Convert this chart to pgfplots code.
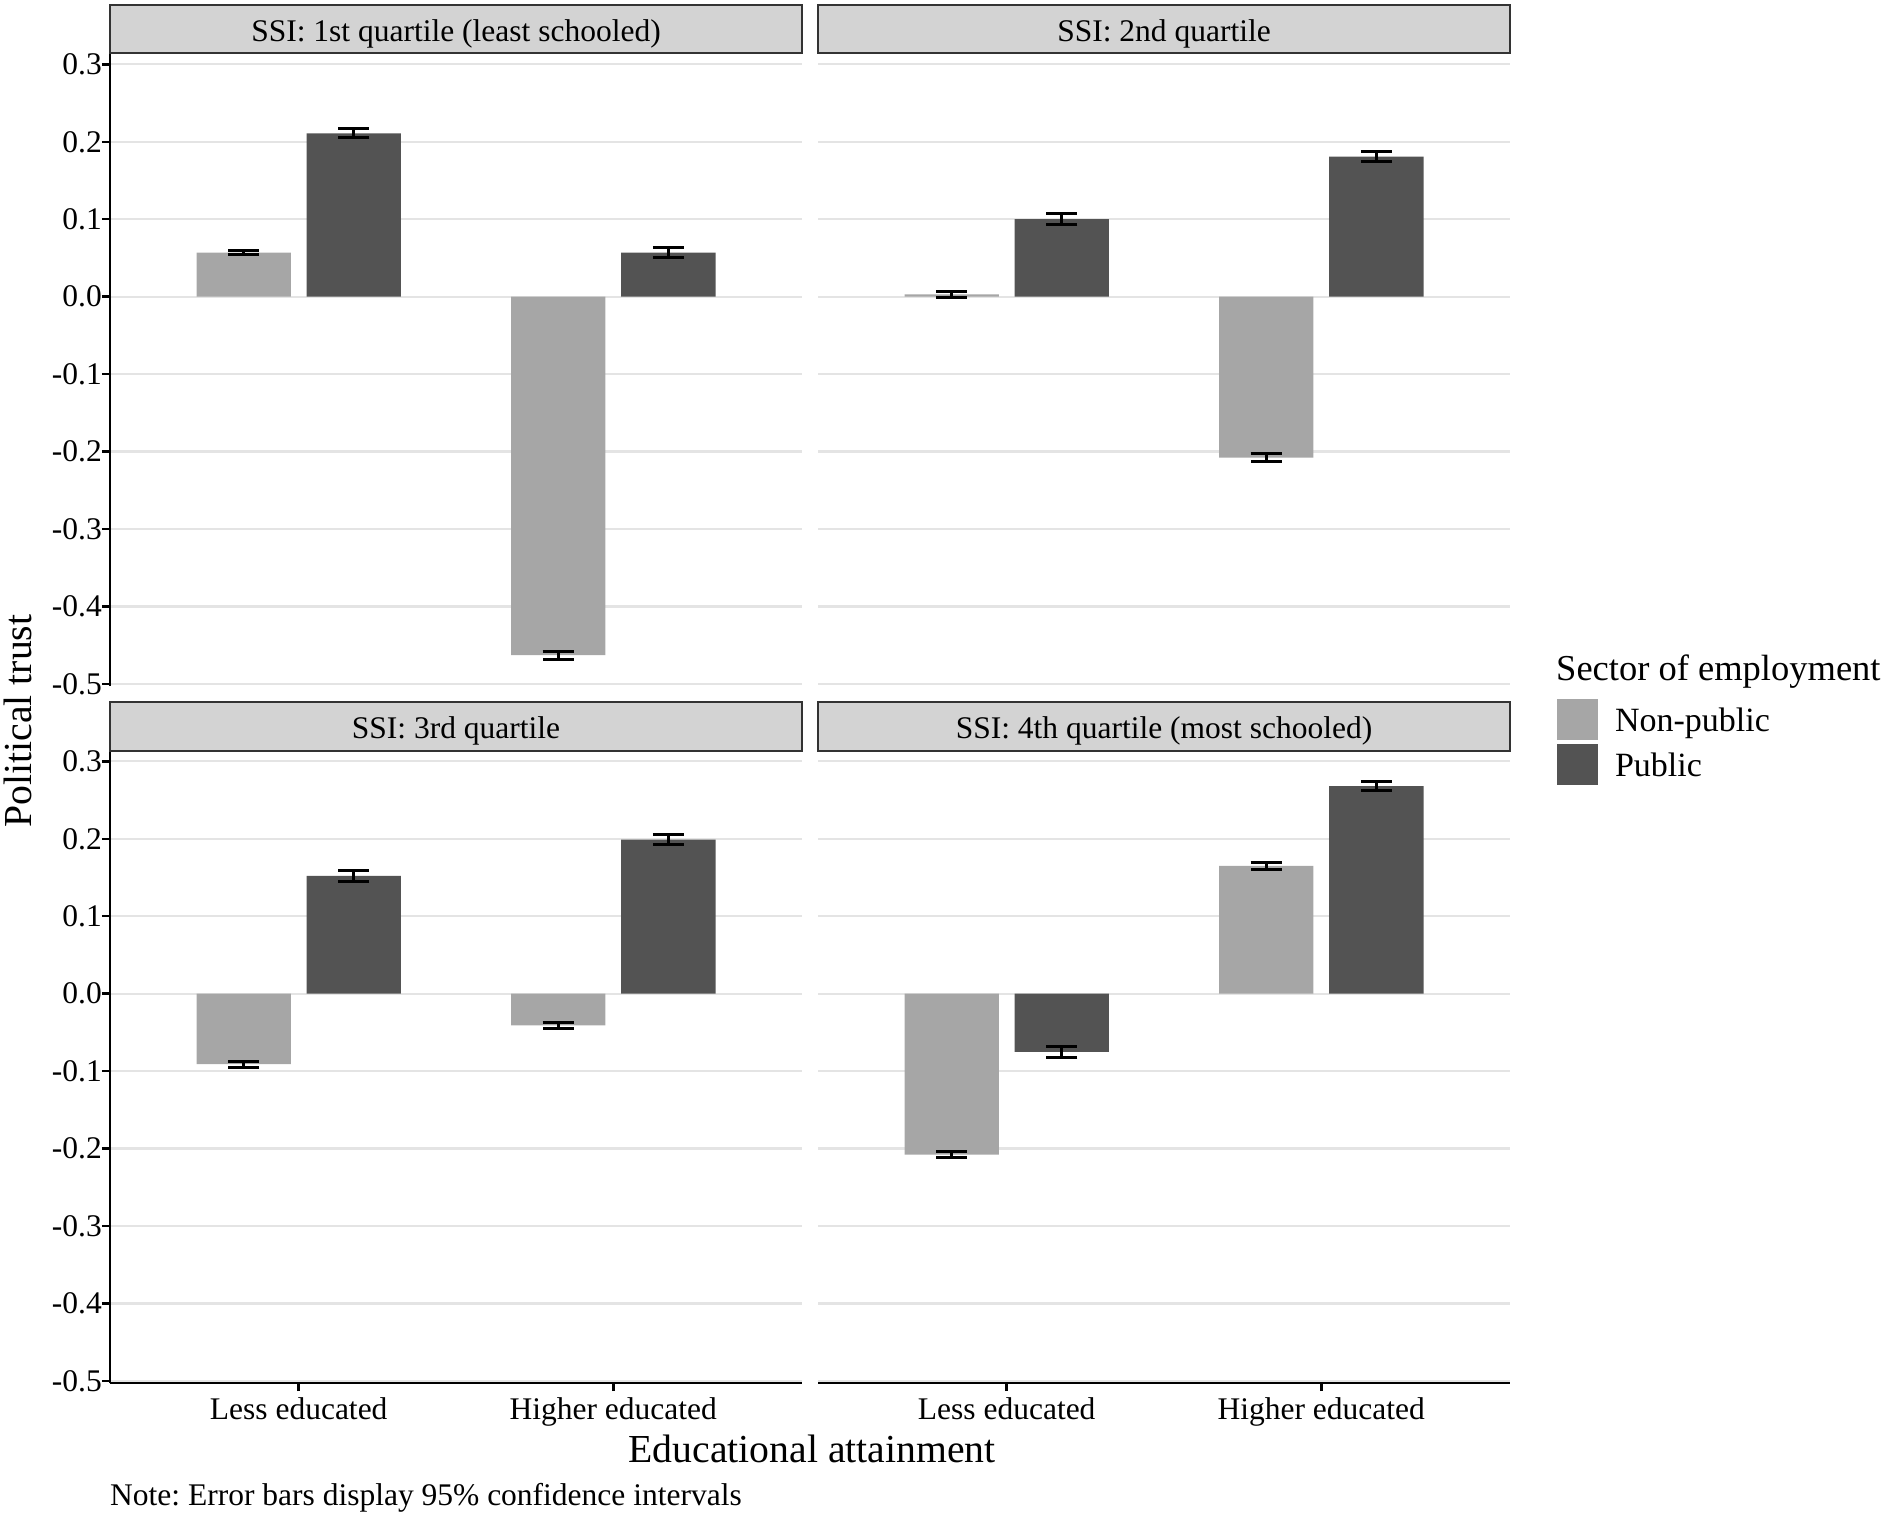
\documentclass[border=0pt]{standalone}
\usepackage{fontspec}
\setmainfont{Liberation Serif}
\usepackage{pgfplots}
\pgfplotsset{compat=1.18}
\frenchspacing
\definecolor{lightbar}{HTML}{A6A6A6}
\definecolor{darkbar}{HTML}{535353}
\definecolor{gridc}{HTML}{E4E4E4}
\definecolor{stripfill}{HTML}{D3D3D3}
\definecolor{stripdraw}{HTML}{333333}
\newcommand\tickfont{\fontsize{31.5}{36}\selectfont}
\newcommand\titlefont{\fontsize{39.7}{46}\selectfont}
\pgfplotsset{
  panel/.style={
    scale only axis, width=692pt, height=632pt,
    xmin=0.4, xmax=2.6, ymin=-0.5028, ymax=0.3134,
    axis x line*=bottom, axis y line*=left,
    axis line style={-, line width=2.5pt, black},
    xtick={1,2}, xticklabels={Less educated, Higher educated},
    ytick={-0.5,-0.4,-0.3,-0.2,-0.1,0,0.1,0.2,0.3},
    yticklabels={-0.5,-0.4,-0.3,-0.2,-0.1,0.0,0.1,0.2,0.3},
    tick align=outside, major tick length=8pt,
    tick style={line width=2.5pt, black},
    ymajorgrids, major grid style={line width=2.2pt, gridc},
    tick label style={font=\tickfont},
    yticklabel style={anchor=east, inner sep=0pt},
    xticklabel style={anchor=north, inner sep=0pt, yshift=-6pt},
  },
  noxaxis/.style={x axis line style={draw=none}, xticklabels={}, xtick style={draw=none}},
  noyaxis/.style={y axis line style={draw=none}, yticklabels={}, ytick style={draw=none}},
  np/.style={ybar, bar width=0.3, bar shift=-0.175, fill=lightbar, draw=none,
     legend image code/.code={\fill[lightbar] (0pt,-8.5pt) rectangle (41pt,32.5pt);}},
  pu/.style={ybar, bar width=0.3, bar shift=0.175, fill=darkbar, draw=none,
     legend image code/.code={\fill[darkbar] (0pt,-8.5pt) rectangle (41pt,32.5pt);}},
  eb/.style={forget plot, draw=none, mark=none,
     error bars/y dir=both, error bars/y explicit,
     error bars/error bar style={draw=black, line width=3pt},
     error bars/error mark options={draw=black, line width=3pt, mark size=15.5pt, rotate=90}},
}
\begin{document}
\begin{tikzpicture}
\path[use as bounding box] (0pt,0pt) rectangle (1891pt,-1517pt);
% Panel 1
\begin{axis}[panel, noxaxis, at={(110pt,-54pt)}, anchor=north west]
\addplot[np] coordinates {(1,0.057) (2,-0.463)};
\addplot[pu] coordinates {(1,0.211) (2,0.057)};
\addplot[eb] coordinates {(0.825,0.057) +- (0,0.003) (1.825,-0.463) +- (0,0.005)};
\addplot[eb] coordinates {(1.175,0.211) +- (0,0.006) (2.175,0.057) +- (0,0.006)};
\end{axis}
% Panel 2
\begin{axis}[panel, noxaxis, noyaxis, at={(818pt,-54pt)}, anchor=north west,
  legend style={at={(1.06792,-0.02089)}, anchor=north west, draw=none, fill=none,
    inner sep=0pt, outer sep=0pt, row sep=4pt, column sep=17pt,
    font=\fontsize{34}{40}\selectfont, nodes={inner sep=0pt}, cells={anchor=base west}}]
\addplot[np] coordinates {(1,0.003) (2,-0.208)};
\addlegendentry{Non-public}
\addplot[pu] coordinates {(1,0.100) (2,0.181)};
\addlegendentry{Public}
\addplot[eb] coordinates {(0.825,0.003) +- (0,0.004) (1.825,-0.208) +- (0,0.005)};
\addplot[eb] coordinates {(1.175,0.100) +- (0,0.007) (2.175,0.181) +- (0,0.007)};
\end{axis}
% Panel 3
\begin{axis}[panel, at={(110pt,-751pt)}, anchor=north west]
\addplot[np] coordinates {(1,-0.091) (2,-0.041)};
\addplot[pu] coordinates {(1,0.152) (2,0.199)};
\addplot[eb] coordinates {(0.825,-0.091) +- (0,0.004) (1.825,-0.041) +- (0,0.004)};
\addplot[eb] coordinates {(1.175,0.152) +- (0,0.007) (2.175,0.199) +- (0,0.006)};
\end{axis}
% Panel 4
\begin{axis}[panel, noyaxis, at={(818pt,-751pt)}, anchor=north west]
\addplot[np] coordinates {(1,-0.208) (2,0.165)};
\addplot[pu] coordinates {(1,-0.075) (2,0.268)};
\addplot[eb] coordinates {(0.825,-0.208) +- (0,0.004) (1.825,0.165) +- (0,0.005)};
\addplot[eb] coordinates {(1.175,-0.075) +- (0,0.007) (2.175,0.268) +- (0,0.006)};
\end{axis}
% strips
\draw[stripdraw, fill=stripfill, line width=2pt] (110pt,-5pt) rectangle (802pt,-53.5pt);
\node[font=\tickfont, anchor=base, inner sep=0pt] at (456pt,-41.3pt) {SSI: 1st quartile (least schooled)};
\draw[stripdraw, fill=stripfill, line width=2pt] (818pt,-5pt) rectangle (1510pt,-53.5pt);
\node[font=\tickfont, anchor=base, inner sep=0pt] at (1164pt,-41.3pt) {SSI: 2nd quartile};
\draw[stripdraw, fill=stripfill, line width=2pt] (110pt,-702pt) rectangle (802pt,-750.5pt);
\node[font=\tickfont, anchor=base, inner sep=0pt] at (456pt,-738.5pt) {SSI: 3rd quartile};
\draw[stripdraw, fill=stripfill, line width=2pt] (818pt,-702pt) rectangle (1510pt,-750.5pt);
\node[font=\tickfont, anchor=base, inner sep=0pt] at (1164pt,-738.5pt) {SSI: 4th quartile (most schooled)};
% titles
\node[font=\titlefont, rotate=90] at (18pt,-721pt) {Political trust};
\node[font=\titlefont, anchor=base] at (812pt,-1462.5pt) {Educational attainment};
\node[font=\fontsize{36.5}{42}\selectfont, anchor=base west, inner sep=0pt] at (1556pt,-680pt) {Sector of employment};
\node[font=\tickfont, anchor=base west, inner sep=0pt] at (110pt,-1505pt) {Note: Error bars display 95\% confidence intervals};
\end{tikzpicture}
\end{document}
